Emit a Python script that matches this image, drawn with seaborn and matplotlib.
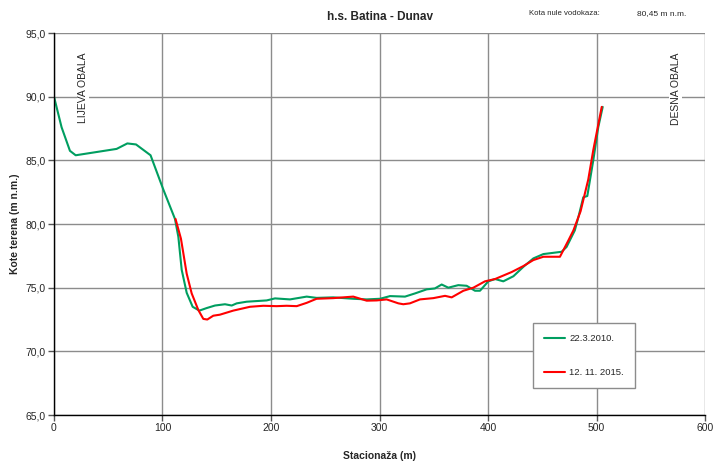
import matplotlib
matplotlib.use("Agg")
import matplotlib.pyplot as plt
from matplotlib.ticker import FuncFormatter, MultipleLocator
import seaborn as sns
import pandas as pd

# profile 22.3.2010.
x_2010 = [0, 7, 14.7, 20, 57.7, 67.6, 75.6, 89, 100.8, 111.5, 114.6, 117.7, 122.3,
          127.8, 134, 140.7, 148.4, 157.6, 163.8, 168.4, 177.6, 196, 203.7, 217.5,
          232.9, 242, 257.4, 275.8, 288.2, 300.5, 309.7, 323.5, 332.7, 343.5, 351,
          357.3, 363.4, 372.6, 380.3, 388, 392.6, 400.3, 406.5, 414.1, 423.4, 432.6,
          441.8, 451, 467.8, 472.4, 480, 483.3, 487.8, 491.5, 497, 501.6, 505.7]
y_2010 = [90.0, 87.6, 85.75, 85.4, 85.9, 86.33, 86.25, 85.4, 82.7, 80.4, 79.0, 76.4, 74.6,
          73.5, 73.2, 73.4, 73.6, 73.7, 73.6, 73.77, 73.9, 74.0, 74.16, 74.08,
          74.3, 74.2, 74.24, 74.13, 74.08, 74.13, 74.34, 74.3, 74.55, 74.87, 74.94,
          75.25, 75.0, 75.2, 75.15, 74.76, 74.76, 75.5, 75.68, 75.5, 75.9, 76.64,
          77.3, 77.64, 77.82, 78.2, 79.5, 80.55, 82.1, 82.2, 85.0, 87.6, 89.2]

# profile 12. 11. 2015.
x_2015 = [112, 117, 122.3, 126.9, 133, 137.6, 141.3, 146.8, 152.9, 165.2, 180.6, 192.9,
          205.2, 214.4, 223.7, 232.9, 242, 257.4, 275.8, 288.2, 297.4, 306.6, 317.4,
          321.9, 328, 337.3, 349.6, 360.4, 366.5, 377.3, 386.5, 397.2, 406.5, 421.8,
          432.6, 441.8, 451, 466.3, 474, 478.7, 485.3, 492.4, 497, 504.8]
y_2015 = [80.4, 78.85, 76.1, 74.55, 73.25, 72.55, 72.5, 72.8, 72.88, 73.2, 73.5, 73.58,
          73.55, 73.58, 73.55, 73.81, 74.13, 74.18, 74.3, 73.98, 74.0, 74.08, 73.77,
          73.7, 73.77, 74.08, 74.18, 74.36, 74.24, 74.76, 75.0, 75.5, 75.68, 76.23,
          76.7, 77.17, 77.43, 77.43, 78.7, 79.5, 81.0, 83.5, 85.8, 89.2]

labels = ["22.3.2010.", "12. 11. 2015."]
colors = ["#009E60", "#FF0000"]

df = pd.concat([
    pd.DataFrame({"x": x_2010, "y": y_2010, "serija": labels[0]}),
    pd.DataFrame({"x": x_2015, "y": y_2015, "serija": labels[1]}),
])

sns.set_style("white")
plt.rcParams["font.family"] = ["Liberation Sans", "DejaVu Sans"]

fig = plt.figure(figsize=(7.17, 4.66), dpi=100)
ax = fig.add_axes([0.0753, 0.1094, 0.908, 0.8197])

sns.lineplot(data=df, x="x", y="y", hue="serija", palette=colors,
             sort=False, estimator=None, linewidth=1.5, ax=ax)

ax.set_xlim(0, 600)
ax.set_ylim(65, 95)
ax.xaxis.set_major_locator(MultipleLocator(100))
ax.yaxis.set_major_locator(MultipleLocator(5))
ax.yaxis.set_major_formatter(FuncFormatter(lambda v, p: f"{v:.1f}".replace(".", ",")))
ax.grid(True, color="#8c8c8c", linewidth=1)
ax.set_axisbelow(True)
for s in ["top", "right"]:
    ax.spines[s].set_visible(False)
for s in ["left", "bottom"]:
    ax.spines[s].set_color("black")
    ax.spines[s].set_linewidth(1)
ax.tick_params(axis="both", direction="out", length=4, width=1, color="#555555",
               labelsize=7.5, pad=2, left=True, bottom=True)

ax.set_xlabel("Stacionaža (m)", fontsize=7.5, fontweight="bold", labelpad=13)
ax.set_ylabel("Kote terena (m n.m.)", fontsize=7.5, fontweight="bold", labelpad=4)

ax.text(26.7, 93.5, "LIJEVA OBALA", rotation=90, ha="center", va="top", fontsize=7.5,
        bbox=dict(facecolor="white", edgecolor="none", pad=1))
ax.text(573, 93.5, "DESNA OBALA", rotation=90, ha="center", va="top", fontsize=7.5,
        bbox=dict(facecolor="white", edgecolor="none", pad=1))

leg = ax.legend(loc="upper left", bbox_to_anchor=(0.736, 0.241), fontsize=6.8,
                frameon=True, fancybox=False, edgecolor="#8c8c8c", framealpha=1,
                handlelength=2.2, handletextpad=0.4, labelspacing=2.6, borderpad=1.2,
                borderaxespad=0)
leg.get_frame().set_linewidth(1)

fig.text(0.530, 0.963, "h.s. Batina - Dunav", ha="center", va="center",
         fontsize=8.5, fontweight="bold")
fig.text(0.837, 0.972, "Kota nule vodokaza:", ha="right", va="center", fontsize=5.6)
fig.text(0.888, 0.972, "80,45 m n.m.", ha="left", va="center", fontsize=6)

fig.savefig("out.png", dpi=100)
